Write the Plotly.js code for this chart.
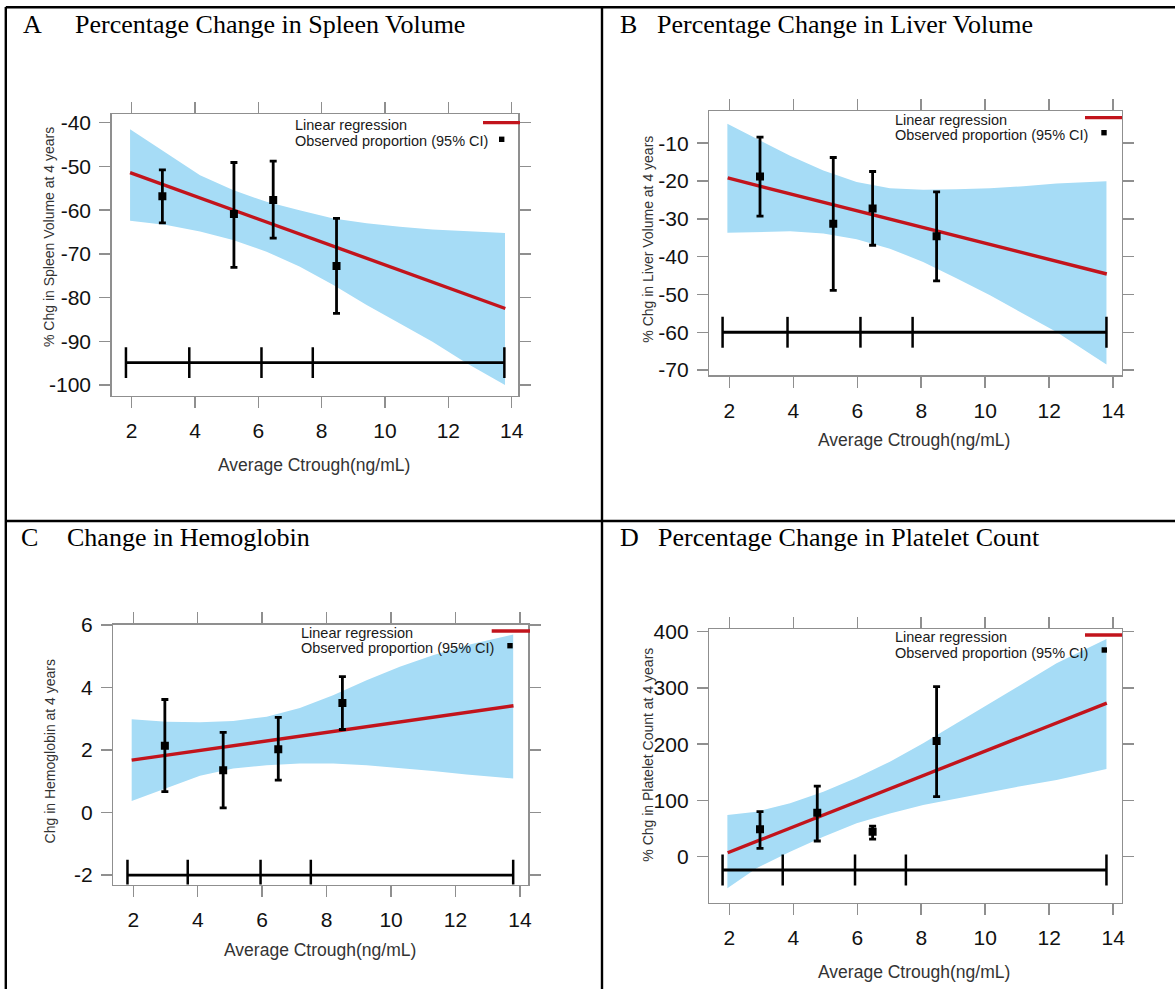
<!DOCTYPE html>
<html>
<head>
<meta charset="utf-8">
<script src="https://cdn.plot.ly/plotly-3.0.1.min.js"></script>
<style>html,body{margin:0;padding:0;background:#fff;}#chart{width:1175px;height:989px;}</style>
</head>
<body>
<div id="chart"></div>
<script>
// ---------------- DATA ----------------
const panelLetters = ['A', 'B', 'C', 'D'];
const panelTitles = ['Percentage Change in Spleen Volume', 'Percentage Change in Liver Volume', 'Change in Hemoglobin', 'Percentage Change in Platelet Count'];
const yTitles = ['% Chg in Spleen Volume at 4 years', '% Chg in Liver Volume at 4 years', 'Chg in Hemoglobin at 4 years', '% Chg in Platelet Count at 4 years'];
const xTitle = 'Average Ctrough(ng/mL)';
const legendLabels = ['Linear regression', 'Observed proportion (95% CI)'];
const xTickVals = [2, 4, 6, 8, 10, 12, 14];

// Panel A - spleen
const A_bandX = [1.95, 3.1, 4.16, 5.2, 6.26, 7.3, 8.37, 9.42, 10.47, 11.5, 12.58, 13.79];
const A_bandUpper = [-41.5, -47.0, -52.0, -55.4, -58.1, -60.0, -61.9, -63.0, -63.8, -64.4, -64.8, -65.2];
const A_bandLower = [-62.4, -63.4, -64.9, -66.8, -69.5, -72.9, -77.1, -81.7, -85.9, -90.1, -95.0, -100.0];
const A_lineX = [1.95, 4, 6, 8, 10, 12, 13.8];
const A_lineY = [-51.4, -56.8, -62.0, -67.3, -72.5, -77.7, -82.5];
const A_ptX = [2.97, 5.23, 6.47, 8.47];
const A_ptY = [-56.8, -60.9, -57.7, -72.8];
const A_ptHi = [-50.8, -49.1, -48.8, -61.9];
const A_ptLo = [-62.9, -73.1, -66.4, -83.6];
const A_quartX = [1.82, 3.82, 6.1, 7.72, 13.77];
const A_barY = -94.9;
const A_yTicks = [-100, -90, -80, -70, -60, -50, -40];

// Panel B - liver
const B_bandX = [1.94, 2.85, 3.9, 4.94, 5.98, 7.02, 8.06, 9.1, 10.15, 11.19, 12.23, 13.79];
const B_bandUpper = [-4.9, -8.9, -13.3, -17.2, -20.3, -21.9, -22.3, -22.2, -21.9, -21.4, -20.7, -20.1];
const B_bandLower = [-33.7, -33.5, -33.3, -33.9, -35.4, -37.9, -41.4, -45.7, -50.2, -55.1, -59.9, -68.5];
const B_lineX = [1.95, 4, 6, 8, 10, 12, 13.8];
const B_lineY = [-19.2, -23.6, -27.9, -32.2, -36.5, -40.8, -44.6];
const B_ptX = [2.96, 5.25, 6.48, 8.48];
const B_ptY = [-18.8, -31.3, -27.3, -34.6];
const B_ptHi = [-8.4, -13.8, -17.5, -22.9];
const B_ptLo = [-29.3, -48.9, -37.0, -46.4];
const B_quartX = [1.79, 3.82, 6.1, 7.73, 13.79];
const B_barY = -60;
const B_yTicks = [-70, -60, -50, -40, -30, -20, -10];

// Panel C - hemoglobin
const C_bandX = [1.95, 3.03, 4.07, 5.1, 6.14, 7.17, 8.2, 9.24, 10.27, 11.3, 12.34, 13.79];
const C_bandUpper = [2.99, 2.91, 2.89, 2.93, 3.07, 3.35, 3.76, 4.24, 4.67, 5.04, 5.36, 5.70];
const C_bandLower = [0.37, 0.77, 1.18, 1.41, 1.52, 1.57, 1.57, 1.52, 1.43, 1.33, 1.22, 1.09];
const C_lineX = [1.95, 4, 6, 8, 10, 12, 13.8];
const C_lineY = [1.68, 1.98, 2.27, 2.57, 2.86, 3.15, 3.42];
const C_ptX = [2.98, 4.79, 6.5, 8.49];
const C_ptY = [2.14, 1.36, 2.03, 3.51];
const C_ptHi = [3.62, 2.57, 3.05, 4.35];
const C_ptLo = [0.67, 0.15, 1.04, 2.66];
const C_quartX = [1.82, 3.69, 5.95, 7.51, 13.79];
const C_barY = -2;
const C_yTicks = [-2, 0, 2, 4, 6];

// Panel D - platelets
const D_bandX = [1.94, 2.85, 3.9, 4.94, 5.98, 7.02, 8.06, 9.1, 10.15, 11.19, 12.23, 13.79];
const D_bandUpper = [74, 80, 94.8, 115.6, 140.4, 168.9, 201.5, 237, 272.6, 308, 343.7, 387];
const D_bandLower = [-56.3, -20.7, 8.9, 35.6, 59.3, 77, 91.9, 103.7, 115.6, 126.2, 136.3, 155.9];
const D_lineX = [1.95, 4, 6, 8, 10, 12, 13.8];
const D_lineY = [7, 53, 98, 143, 188, 233, 273];
const D_ptX = [2.96, 4.75, 6.48, 8.48];
const D_ptY = [48.6, 78.2, 44.4, 205.6];
const D_ptHi = [80, 125.6, 54.5, 302.2];
const D_ptLo = [14.8, 27.9, 31.4, 106.7];
const D_quartX = [1.79, 3.67, 5.93, 7.52, 13.79];
const D_barY = -23.7;
const D_yTicks = [0, 100, 200, 300, 400];

// ---------------- LAYOUT / STYLE ----------------
const W = 1175, H = 989;
const px = v => v / W;
const py = v => 1 - v / H;

const BAND = '#a6dcf6';
const RED = '#c2141c';
const FRAME = '#8f8f8f';
const SANS = 'Liberation Sans, Arial, sans-serif';
const SERIF = 'Liberation Serif, Times New Roman, serif';

const panels = [
  {bandX: A_bandX, up: A_bandUpper, lo: A_bandLower, lx: A_lineX, ly: A_lineY, ptX: A_ptX, ptY: A_ptY, hi: A_ptHi, ptLo: A_ptLo, qx: A_quartX, by: A_barY, yt: A_yTicks,
   frame: {x0: 111.7, x1: 518.3, y0: 114, y1: 395.5}, xr: [1.37, 14.21], yr: [-102.4, -38.0],
   title: {lx: 21, tx: 72.7, y: 25}, ytitle: {x: 48.3, y: 236.7}, xtitle: {x: 313.8, y: 465},
   leg: {tx: 293, y1: 125, y2: 141.2, rl0: 483, rl1: 520, rly: 122.7, sqx: 501.7, sqy: 139.3}},
  {bandX: B_bandX, up: B_bandUpper, lo: B_bandLower, lx: B_lineX, ly: B_lineY, ptX: B_ptX, ptY: B_ptY, hi: B_ptHi, ptLo: B_ptLo, qx: B_quartX, by: B_barY, yt: B_yTicks,
   frame: {x0: 709.3, x1: 1121.5, y0: 111, y1: 375}, xr: [1.375, 14.26], yr: [-71.3, -1.5],
   title: {lx: 617.6, tx: 655, y: 25}, ytitle: {x: 647.7, y: 239}, xtitle: {x: 913.5, y: 440},
   leg: {tx: 893.3, y1: 119.5, y2: 135.2, rl0: 1085, rl1: 1122, rly: 117.7, sqx: 1104, sqy: 132.7}},
  {bandX: C_bandX, up: C_bandUpper, lo: C_bandLower, lx: C_lineX, ly: C_lineY, ptX: C_ptX, ptY: C_ptY, hi: C_ptHi, ptLo: C_ptLo, qx: C_quartX, by: C_barY, yt: C_yTicks,
   frame: {x0: 113.3, x1: 528, y0: 624.5, y1: 884.5}, xr: [1.38, 14.25], yr: [-2.3, 6.02],
   title: {lx: 19, tx: 65, y: 537.5}, ytitle: {x: 49.7, y: 751.7}, xtitle: {x: 319.6, y: 950},
   leg: {tx: 299, y1: 632.5, y2: 648.3, rl0: 491.7, rl1: 530, rly: 631, sqx: 510, sqy: 645.7}},
  {bandX: D_bandX, up: D_bandUpper, lo: D_bandLower, lx: D_lineX, ly: D_lineY, ptX: D_ptX, ptY: D_ptY, hi: D_ptHi, ptLo: D_ptLo, qx: D_quartX, by: D_barY, yt: D_yTicks,
   frame: {x0: 709.3, x1: 1121.5, y0: 629, y1: 902.7}, xr: [1.375, 14.26], yr: [-81.8, 404.8],
   title: {lx: 617.6, tx: 655.7, y: 537.5}, ytitle: {x: 647.7, y: 755}, xtitle: {x: 913.5, y: 971.7},
   leg: {tx: 893.3, y1: 637.2, y2: 653, rl0: 1085, rl1: 1122, rly: 635, sqx: 1104.3, sqy: 650}}
];

const traces = [];
const annotations = [];
const shapes = [];
const layout = {
  width: W, height: H,
  margin: {l: 0, r: 0, t: 0, b: 0},
  paper_bgcolor: '#ffffff', plot_bgcolor: '#ffffff',
  showlegend: false,
  font: {family: SANS, color: '#222'}
};

panels.forEach((p, i) => {
  const n = i === 0 ? '' : String(i + 1);
  const xa = 'x' + n, ya = 'y' + n;

  // confidence band
  traces.push({x: p.bandX, y: p.lo, xaxis: xa, yaxis: ya, type: 'scatter', mode: 'lines',
    line: {width: 0, color: BAND}, hoverinfo: 'skip'});
  traces.push({x: p.bandX, y: p.up, xaxis: xa, yaxis: ya, type: 'scatter', mode: 'lines',
    fill: 'tonexty', fillcolor: BAND, line: {width: 0, color: BAND}, hoverinfo: 'skip'});
  // regression line
  traces.push({x: p.lx, y: p.ly, xaxis: xa, yaxis: ya, type: 'scatter', mode: 'lines',
    line: {color: RED, width: 3.4}});
  // exposure quartile bar
  traces.push({x: p.qx, y: p.qx.map(() => p.by), xaxis: xa, yaxis: ya, type: 'scatter', mode: 'lines+markers',
    line: {color: '#000', width: 2.8},
    marker: {symbol: 'line-ns', size: 22, color: '#000', line: {color: '#000', width: 2.5}}});
  // observed points with CI
  traces.push({x: p.ptX, y: p.ptY, xaxis: xa, yaxis: ya, type: 'scatter', mode: 'markers',
    marker: {symbol: 'square', size: 8, color: '#000'},
    error_y: {type: 'data', symmetric: false,
      array: p.hi.map((h, k) => h - p.ptY[k]),
      arrayminus: p.ptLo.map((l, k) => p.ptY[k] - l),
      color: '#000', thickness: 2.8, width: 3.5}});

  const common = {
    showline: true, linecolor: FRAME, linewidth: 1.5, mirror: 'ticks',
    ticks: 'outside', ticklen: 11, tickcolor: FRAME, tickwidth: 1.5,
    showgrid: false, zeroline: false, fixedrange: true,
    tickfont: {family: SANS, size: 21, color: '#111'}
  };
  layout['xaxis' + n] = Object.assign({}, common, {
    domain: [px(p.frame.x0), px(p.frame.x1)], range: p.xr, anchor: ya,
    tickmode: 'array', tickvals: xTickVals, ticktext: xTickVals.map(String),
    ticklabelstandoff: 5
  });
  layout['yaxis' + n] = Object.assign({}, common, {
    domain: [py(p.frame.y1), py(p.frame.y0)], range: p.yr, anchor: xa,
    tickmode: 'array', tickvals: p.yt, ticktext: p.yt.map(String),
    ticklabelstandoff: 4
  });

  // titles
  annotations.push({xref: 'paper', yref: 'paper', x: px(p.title.lx), y: py(p.title.y), xanchor: 'left', yanchor: 'middle',
    text: panelLetters[i], showarrow: false, font: {family: SERIF, size: 26, color: '#000'}});
  annotations.push({xref: 'paper', yref: 'paper', x: px(p.title.tx), y: py(p.title.y), xanchor: 'left', yanchor: 'middle',
    text: panelTitles[i], showarrow: false, font: {family: SERIF, size: 26, color: '#000'}});
  // axis titles
  annotations.push({xref: 'paper', yref: 'paper', x: px(p.ytitle.x), y: py(p.ytitle.y), xanchor: 'center', yanchor: 'middle',
    text: yTitles[i], textangle: -90, showarrow: false, font: {family: SANS, size: 14, color: '#333'}});
  annotations.push({xref: 'paper', yref: 'paper', x: px(p.xtitle.x), y: py(p.xtitle.y), xanchor: 'center', yanchor: 'middle',
    text: xTitle, showarrow: false, font: {family: SANS, size: 17.5, color: '#333'}});
  // legend
  annotations.push({xref: 'paper', yref: 'paper', x: px(p.leg.tx), y: py(p.leg.y1), xanchor: 'left', yanchor: 'middle',
    text: legendLabels[0], showarrow: false, font: {family: SANS, size: 14.5, color: '#1a1a1a'}});
  annotations.push({xref: 'paper', yref: 'paper', x: px(p.leg.tx), y: py(p.leg.y2), xanchor: 'left', yanchor: 'middle',
    text: legendLabels[1], showarrow: false, font: {family: SANS, size: 14.5, color: '#1a1a1a'}});
  shapes.push({type: 'line', xref: 'paper', yref: 'paper', x0: px(p.leg.rl0), x1: px(p.leg.rl1), y0: py(p.leg.rly), y1: py(p.leg.rly),
    line: {color: RED, width: 3.3}});
  shapes.push({type: 'rect', xref: 'paper', yref: 'paper', x0: px(p.leg.sqx - 2.7), x1: px(p.leg.sqx + 2.7), y0: py(p.leg.sqy + 2.7), y1: py(p.leg.sqy - 2.7),
    line: {width: 0}, fillcolor: '#000'});
});

// table borders
const border = {color: '#000', width: 2.4};
shapes.push({type: 'line', xref: 'paper', yref: 'paper', x0: px(5.8), x1: px(5.8), y0: py(7), y1: py(H), line: border});
shapes.push({type: 'line', xref: 'paper', yref: 'paper', x0: px(5.8), x1: px(W), y0: py(7.2), y1: py(7.2), line: border});
shapes.push({type: 'line', xref: 'paper', yref: 'paper', x0: px(602), x1: px(602), y0: py(7), y1: py(H), line: border});
shapes.push({type: 'line', xref: 'paper', yref: 'paper', x0: px(5.8), x1: px(W), y0: py(521), y1: py(521), line: border});

layout.annotations = annotations;
layout.shapes = shapes;

Plotly.newPlot('chart', traces, layout, {displayModeBar: false, staticPlot: true});
</script>
</body>
</html>
